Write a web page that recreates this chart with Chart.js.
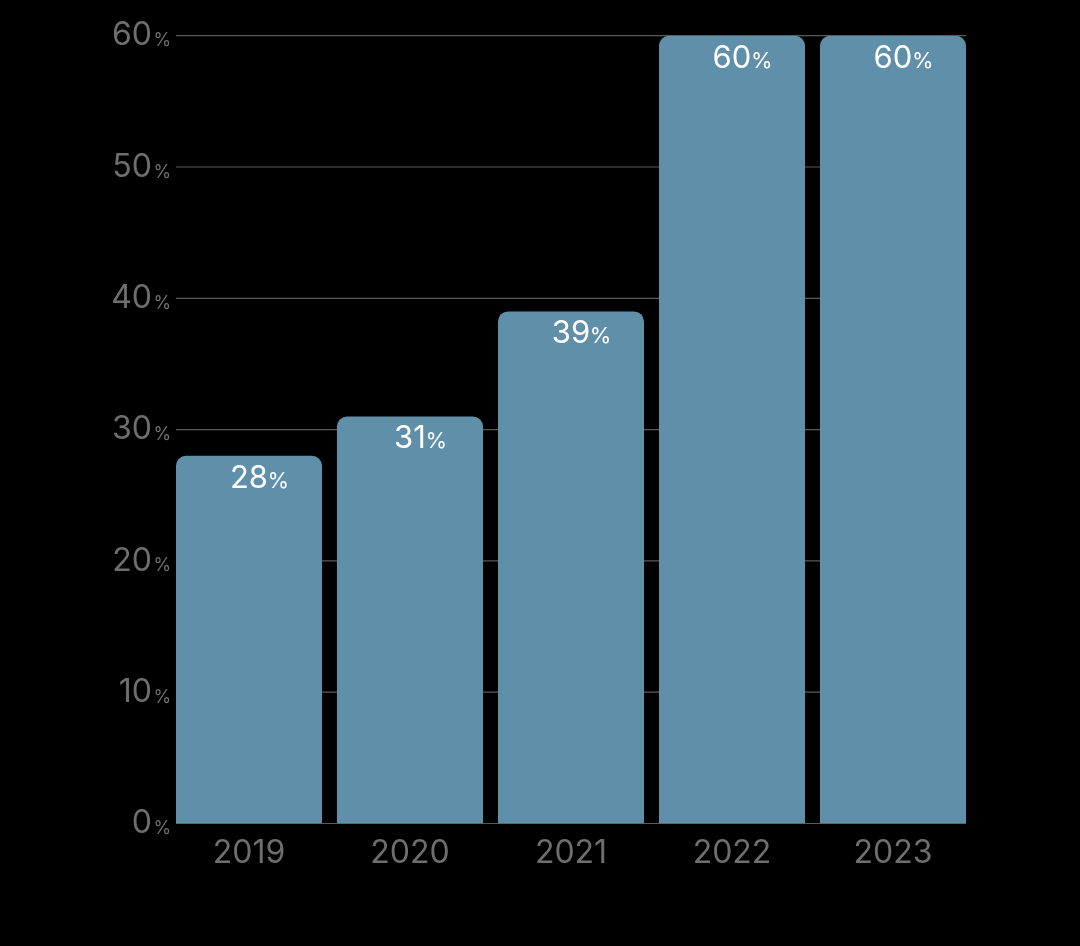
<!DOCTYPE html>
<html>
<head>
<meta charset="utf-8">
<script src="https://cdn.jsdelivr.net/npm/chart.js@4"></script>
<style>
  html, body { margin: 0; padding: 0; background: #000; }
  #wrap { width: 1080px; height: 946px; }
</style>
</head>
<body>
<div id="wrap"><canvas id="c" width="1080" height="946"></canvas></div>
<script>
const categories = ['2019', '2020', '2021', '2022', '2023'];
const values = [28, 31, 39, 60, 60];
const yTicks = [0, 10, 20, 30, 40, 50, 60];

const FONT = 'Inter, "Noto Sans", sans-serif';
const BAR_COLOR = '#5f8fa9';
const TICK_COLOR = '#6e6e6e';
const GRID_COLOR = '#5a5a5a';

// horizontal grid lines spanning from the first bar's left edge to the last bar's right edge
const gridLines = {
  id: 'gridLines',
  beforeDatasetsDraw(chart) {
    const ctx = chart.ctx;
    const y = chart.scales.y;
    const bars = chart.getDatasetMeta(0).data;
    const first = bars[0], last = bars[bars.length - 1];
    const x0 = first.x - first.width / 2;
    const x1 = last.x + last.width / 2;
    ctx.save();
    ctx.strokeStyle = GRID_COLOR;
    ctx.lineWidth = 1.2;
    yTicks.forEach(v => {
      const py = y.getPixelForValue(v);
      ctx.beginPath();
      ctx.moveTo(x0, py);
      ctx.lineTo(x1, py);
      ctx.stroke();
    });
    ctx.restore();
  }
};

const percentTicks = {
  id: 'percentTicks',
  afterDraw(chart) {
    const ctx = chart.ctx;
    const y = chart.scales.y;
    ctx.save();
    ctx.fillStyle = TICK_COLOR;
    ctx.font = '18px ' + FONT;
    ctx.textAlign = 'left';
    ctx.textBaseline = 'alphabetic';
    yTicks.forEach(v => {
      const py = y.getPixelForValue(v);
      ctx.fillText('%', y.right - 15, py + 10.5);
    });
    ctx.restore();
  }
};

const barLabels = {
  id: 'barLabels',
  afterDatasetsDraw(chart) {
    const ctx = chart.ctx;
    const meta = chart.getDatasetMeta(0);
    ctx.save();
    ctx.fillStyle = '#ffffff';
    ctx.textBaseline = 'alphabetic';
    meta.data.forEach((el, i) => {
      const num = String(values[i]);
      ctx.font = '31px ' + FONT;
      const w = ctx.measureText(num).width;
      ctx.textAlign = 'center';
      const by = el.y + 32;
      ctx.fillText(num, el.x, by);
      ctx.font = '22px ' + FONT;
      ctx.textAlign = 'left';
      ctx.fillText('%', el.x + w / 2 - 0.5, by);
    });
    ctx.restore();
  }
};

new Chart(document.getElementById('c'), {
  type: 'bar',
  data: {
    labels: categories,
    datasets: [{
      data: values,
      backgroundColor: BAR_COLOR,
      borderRadius: 10,
      borderSkipped: 'start',
      categoryPercentage: 1.0,
      barPercentage: 0.907
    }]
  },
  options: {
    responsive: false,
    animation: false,
    layout: { padding: { top: 30, right: 106.5, bottom: 0, left: 0 } },
    plugins: { legend: { display: false }, tooltip: { enabled: false } },
    scales: {
      x: {
        grid: { display: false, drawTicks: false },
        border: { display: false },
        ticks: { color: TICK_COLOR, font: { family: FONT, size: 32 }, padding: 11 },
        afterFit(scale) { scale.height = 122.5; }
      },
      y: {
        min: 0, max: 60,
        afterBuildTicks(scale) { scale.ticks = yTicks.map(v => ({ value: v })); },
        grid: { display: false, drawTicks: false },
        border: { display: false },
        ticks: { color: TICK_COLOR, font: { family: FONT, size: 32 }, padding: 16.5 },
        afterFit(scale) { scale.width = 168.5; }
      }
    }
  },
  plugins: [gridLines, percentTicks, barLabels]
});
</script>
</body>
</html>
